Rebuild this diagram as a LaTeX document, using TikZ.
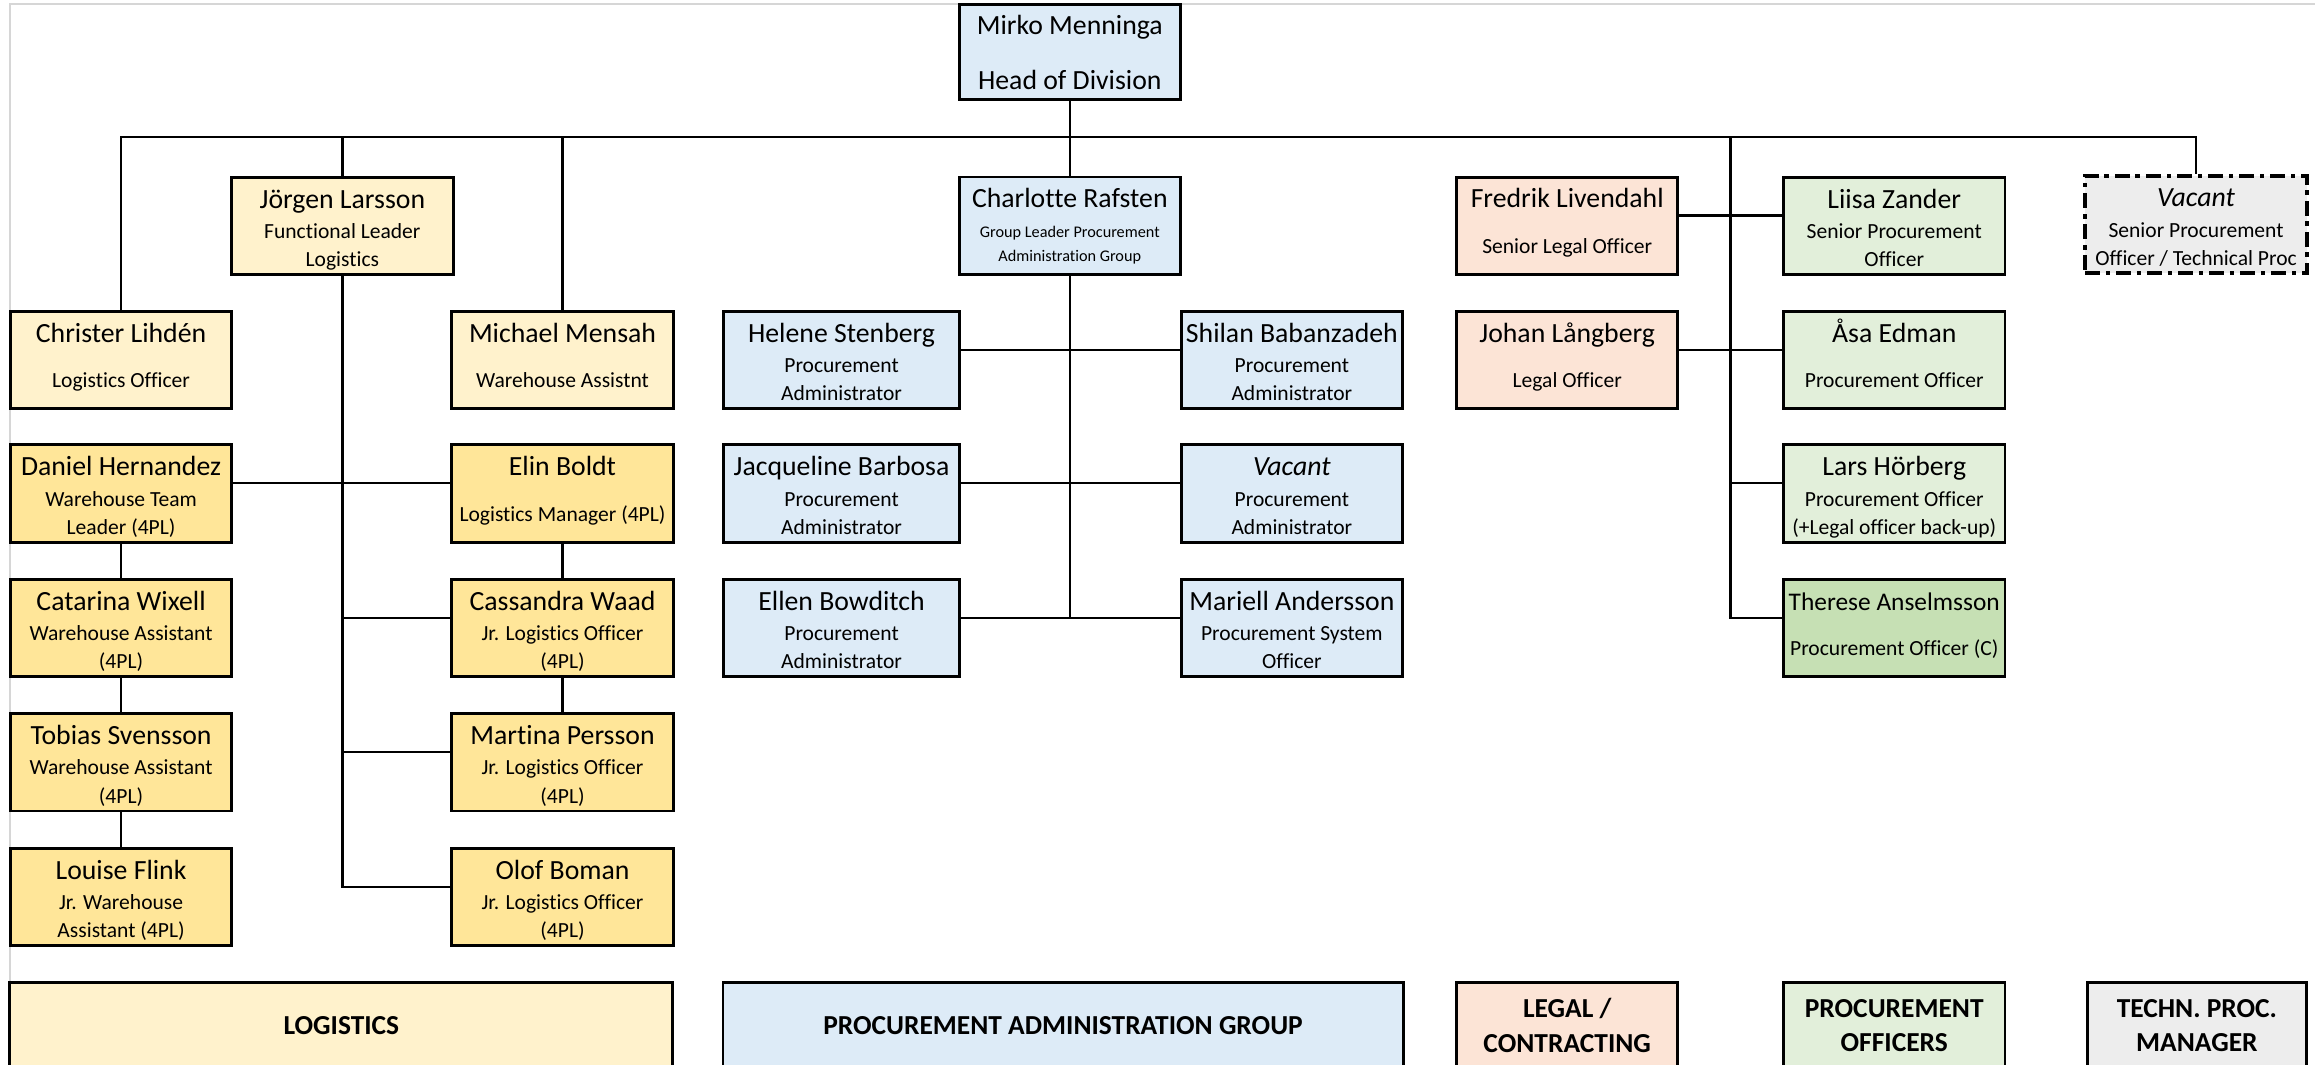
\documentclass[tikz,border=0pt]{standalone}
\usepackage{fontspec}
\setmainfont{Carlito}[Ligatures=CommonOff]
\definecolor{logilight}{HTML}{FFF2CC}
\definecolor{logidark}{HTML}{FFE699}
\definecolor{adminblue}{HTML}{DDEBF7}
\definecolor{legalrose}{HTML}{FCE4D6}
\definecolor{procgreen}{HTML}{E2EFDA}
\definecolor{procdark}{HTML}{C6E0B4}
\definecolor{techgray}{HTML}{EDEDED}
\definecolor{pageframe}{HTML}{D6D6D6}
\newcommand\nm[1]{{\fontsize{9.4}{11}\selectfont\rule{0pt}{10.35pt}#1}}
\newcommand\twoline[2]{\nm{#1}\\[5.9pt]#2\rule[-7.15pt]{0pt}{0pt}}
\newcommand\threeline[3]{\nm{#1}\\[0.75pt]#2\\#3\rule[-2.5pt]{0pt}{0pt}}
\tikzset{
  staff/.style={draw, line width=1pt, minimum width=75pt, minimum height=33pt, inner sep=0pt,
                align=center, font=\fontsize{7.3}{9.5}\selectfont},
  logi/.style={staff, fill=logilight},
  four/.style={staff, fill=logidark},
  admin/.style={staff, fill=adminblue},
  wideadmin/.style={admin, minimum width=80pt},
  legal/.style={staff, fill=legalrose},
  proc/.style={staff, fill=procgreen},
  procc/.style={staff, fill=procdark},
  tech/.style={staff, fill=techgray, line width=1.4pt, dash pattern=on 5pt off 2pt on 1.5pt off 2pt},
  unit/.style={draw, line width=1pt, minimum height=29pt, inner sep=0pt, align=center,
               font=\fontsize{9.3}{11.8}\selectfont\bfseries},
  link/.style={line width=0.8pt},
  frame/.style={pageframe, line width=0.7pt}
}
\begin{document}
\begin{tikzpicture}[x=0.5pt, y=-0.5pt]
\useasboundingbox (0,0) rectangle (1568,721);
\clip (0,0) rectangle (1568,721);
\draw[frame] (1568,3) -| (7,721);

\node[admin, minimum height=32pt, font=\fontsize{9.4}{18.6}\selectfont]
     (mirko) at (724.6,35.3) {Mirko Menninga\\Head of Division};

\node[logi]  (jorgen)     at ( 231.9,153) {\threeline{Jörgen Larsson}{Functional Leader}{Logistics}};
\node[admin, font=\fontsize{5.5}{7.8}\selectfont]
             (charlotte)  at ( 724.6,153) {\nm{Charlotte Rafsten}\\[2.5pt]Group Leader Procurement\\Administration Group\rule[-4.65pt]{0pt}{0pt}};
\node[legal] (fredrik)    at (1061.5,153) {\twoline{Fredrik Livendahl}{Senior Legal Officer}};
\node[proc]  (liisa)      at (1283.0,153) {\threeline{Liisa Zander}{Senior Procurement}{Officer}};
\node[tech]  (vacanttech) at (1487.4,152) {\threeline{\itshape Vacant}{Senior Procurement}{Officer / Technical Proc}};

\node[logi]      (christer)   at (  82.0,244) {\twoline{Christer Lihdén}{Logistics Officer}};
\node[logi]      (michael)    at ( 381.0,244) {\twoline{Michael Mensah}{Warehouse Assistnt}};
\node[wideadmin] (helene)     at ( 570.0,244) {\threeline{Helene Stenberg}{Procurement}{Administrator}};
\node[admin]     (shilan)     at ( 875.0,244) {\threeline{Shilan Babanzadeh}{Procurement}{Administrator}};
\node[legal]     (johan)      at (1061.5,244) {\twoline{Johan Långberg}{Legal Officer}};
\node[proc]      (asa)        at (1283.0,244) {\twoline{Åsa Edman}{Procurement Officer}};

\node[four]      (daniel)     at (  82.0,334.3) {\threeline{Daniel Hernandez}{Warehouse Team}{Leader (4PL)}};
\node[four]      (elin)       at ( 381.0,334.3) {\twoline{Elin Boldt}{Logistics Manager (4PL)}};
\node[wideadmin] (jacqueline) at ( 570.0,334.3) {\threeline{Jacqueline Barbosa}{Procurement}{Administrator}};
\node[admin]     (vacantpa)   at ( 875.0,334.3) {\threeline{\itshape Vacant}{Procurement}{Administrator}};
\node[proc]      (lars)       at (1283.0,334.3) {\threeline{Lars Hörberg}{Procurement Officer}{(+Legal officer back-up)}};

\node[four]      (catarina)   at (  82.0,425.4) {\threeline{Catarina Wixell}{Warehouse Assistant}{(4PL)}};
\node[four]      (cassandra)  at ( 381.0,425.4) {\threeline{Cassandra Waad}{Jr. Logistics Officer}{(4PL)}};
\node[wideadmin] (ellen)      at ( 570.0,425.4) {\threeline{Ellen Bowditch}{Procurement}{Administrator}};
\node[admin]     (mariell)    at ( 875.0,425.4) {\threeline{Mariell Andersson}{Procurement System}{Officer}};
\node[procc]     (therese)    at (1283.0,425.4) {\twoline{\fontsize{8.6}{11}\selectfont Therese Anselmsson}{Procurement Officer (C)}};

\node[four]      (tobias)     at (  82.0,516.3) {\threeline{Tobias Svensson}{Warehouse Assistant}{(4PL)}};
\node[four]      (martina)    at ( 381.0,516.3) {\threeline{Martina Persson}{Jr. Logistics Officer}{(4PL)}};

\node[four]      (louise)     at (  82.0,607.6) {\threeline{Louise Flink}{Jr. Warehouse}{Assistant (4PL)}};
\node[four]      (olof)       at ( 381.0,607.6) {\threeline{Olof Boman}{Jr. Logistics Officer}{(4PL)}};

\node[unit, fill=logilight, minimum width=224.5pt] (logistics) at ( 231.2,694.6) {LOGISTICS};
\node[unit, fill=adminblue, minimum width=230.3pt] (pag)       at ( 720.0,694.6) {PROCUREMENT ADMINISTRATION GROUP};
\node[unit, fill=legalrose, minimum width=75pt]    (legalunit) at (1061.5,694.6) {LEGAL /\\CONTRACTING};
\node[unit, fill=procgreen, minimum width=75pt]    (procunit)  at (1283.0,694.6) {PROCUREMENT\\OFFICERS};
\node[unit, fill=techgray,  minimum width=74pt]    (techunit)  at (1488.0,694.6) {TECHN. PROC.\\MANAGER};

\coordinate (bus)     at ( 724.6,93);
\coordinate (pospine) at (1172.0,93);

\draw[link] (mirko.south) -- (charlotte.north);
\draw[link] (christer.north) |- (bus) -| (vacanttech.north);
\draw[link] (jorgen.north) -- (jorgen.north |- bus);
\draw[link] (michael.north) -- (michael.north |- bus);

\draw[link] (jorgen.south) |- ([yshift=3.5pt]olof.west);
\draw[link] ([yshift=3.5pt]martina.west) -| (jorgen.south);
\draw[link] ([yshift=3.5pt]cassandra.west) -| (jorgen.south);
\draw[link] ([yshift=3.5pt]daniel.east) -- ([yshift=3.5pt]elin.west);
\draw[link] (daniel.south) -- (catarina.north);
\draw[link] (catarina.south) -- (tobias.north);
\draw[link] (tobias.south) -- (louise.north);
\draw[link] (elin.south) -- (cassandra.north);
\draw[link] (cassandra.south) -- (martina.north);

\draw[link] (charlotte.south) |- ([yshift=3.5pt]mariell.west);
\draw[link] ([yshift=3.5pt]ellen.east) -| (charlotte.south);
\draw[link] ([yshift=3.5pt]helene.east) -- ([yshift=3.5pt]shilan.west);
\draw[link] ([yshift=3.5pt]jacqueline.east) -- ([yshift=3.5pt]vacantpa.west);

\draw[link] (pospine) |- ([yshift=3.5pt]therese.west);
\draw[link] ([yshift=3.5pt]lars.west) -| (pospine);
\draw[link] ([yshift=3.5pt]fredrik.east) -- ([yshift=3.5pt]liisa.west);
\draw[link] ([yshift=3.5pt]johan.east) -- ([yshift=3.5pt]asa.west);
\end{tikzpicture}
\end{document}
